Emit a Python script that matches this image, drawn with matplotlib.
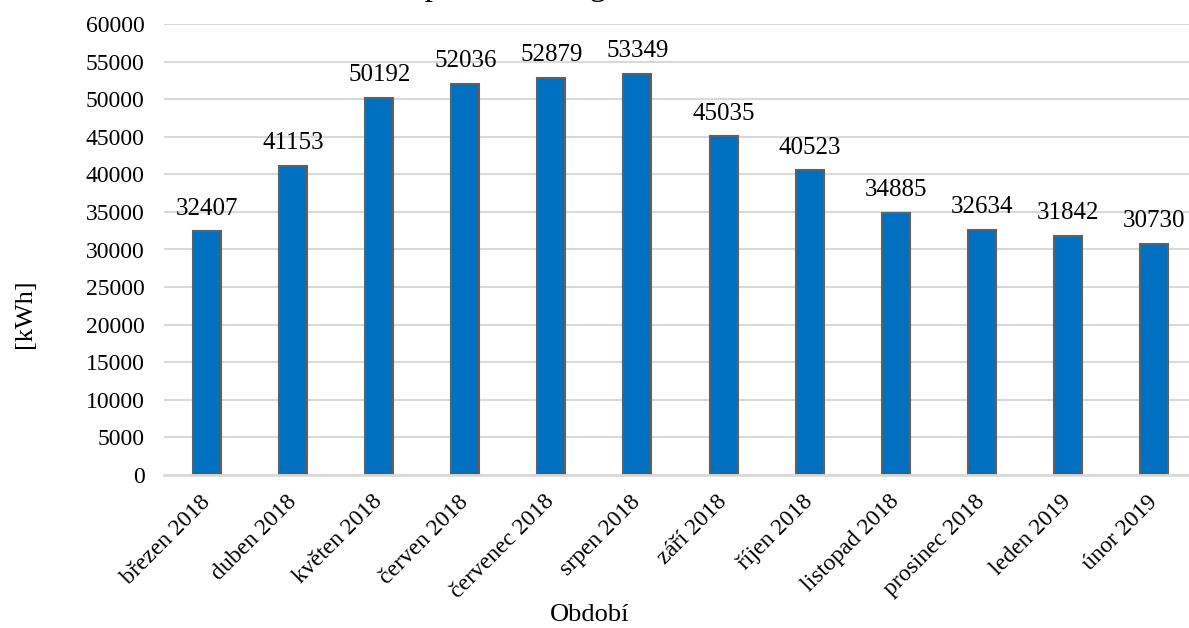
import matplotlib.pyplot as plt

months = ['březen 2018', 'duben 2018', 'květen 2018', 'červen 2018', 'červenec 2018',
          'srpen 2018', 'září 2018', 'říjen 2018', 'listopad 2018', 'prosinec 2018',
          'leden 2019', 'únor 2019']
consumption = [32407, 41153, 50192, 52036, 52879, 53349, 45035, 40523, 34885, 32634, 31842, 30730]
yticks = list(range(0, 60001, 5000))

plt.rcParams['font.family'] = ['Liberation Serif', 'DejaVu Serif']

fig = plt.figure(figsize=(11.89, 6.28), dpi=100)
ax = fig.add_axes([164 / 1189, 153 / 628, 1033 / 1189, 451 / 628])

x = range(len(months))
bars = ax.bar(x, consumption, width=0.325, color='#0070C0', edgecolor='#606060',
              linewidth=1.5, zorder=3)

for xi, v in zip(x, consumption):
    ax.annotate(str(v), (xi, v), xytext=(0, 12), textcoords='offset points',
                ha='center', va='baseline', fontsize=18)

ax.set_xlim(-0.5, len(months) - 0.5)
ax.set_ylim(0, 60000)
ax.set_yticks(yticks)
ax.set_yticklabels([str(t) for t in yticks], fontsize=17)
ax.set_xticks(list(x))
ax.set_xticklabels(months, rotation=45, ha='right', va='center',
                   rotation_mode='anchor', fontsize=17)
ax.tick_params(axis='both', length=0)
ax.tick_params(axis='y', pad=14)
ax.tick_params(axis='x', pad=17)

ax.grid(axis='y', color='#D9D9D9', linewidth=1.5, zorder=0)
for s in ['top', 'right', 'left']:
    ax.spines[s].set_visible(False)
ax.spines['bottom'].set_color('#D9D9D9')
ax.spines['bottom'].set_linewidth(2)
ax.spines['bottom'].set_zorder(4)

fig.text(25 / 1189, 0.5, '[kWh]', rotation=90, ha='center', va='center', fontsize=19)
fig.text(590 / 1189, 1 - 615 / 628, 'Období', ha='center', va='center', fontsize=19)

# title is cut off at the top of the original image
fig.text(406 / 1189, 1 + 5 / 628, 'Spotřeba energie', ha='left', va='baseline', fontsize=24)

fig.savefig('out.png', dpi=100)
